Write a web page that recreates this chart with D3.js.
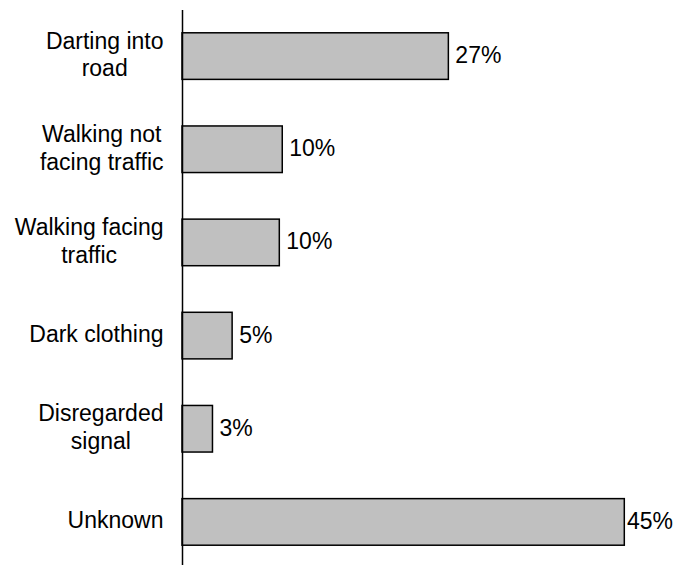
<!DOCTYPE html>
<html>
<head>
<meta charset="utf-8">
<script src="https://d3js.org/d3.v7.min.js"></script>
<style>
	body { margin: 0; background: #fff; }
	svg text { font-family: "Liberation Sans", Arial, sans-serif; font-size: 23px; fill: #000; }
</style>
</head>
<body>
<svg width="673" height="565"></svg>
<script>
	// data
	var categories = [
		["Darting into", "road"],
		["Walking not", "facing traffic"],
		["Walking facing", "traffic"],
		["Dark clothing"],
		["Disregarded", "signal"],
		["Unknown"]
	];
	var values = [27.1, 10.2, 9.9, 5.1, 3.1, 45];
	var valueLabels = ["27%", "10%", "10%", "5%", "3%", "45%"];

	var svg = d3.select("svg"),
		width = +svg.attr("width"),
		height = +svg.attr("height");

	var x0 = 182;
	var x = d3.scaleLinear()
		.domain([0, 45])
		.range([x0, 624.3]);

	var y = d3.scaleBand()
		.domain(d3.range(categories.length))
		.range([9.5, 568.5])
		.paddingInner(0.5)
		.paddingOuter(0.25);

	// bars
	svg.append("g")
		.selectAll("rect")
		.data(values)
		.enter()
		.append("rect")
		.attr("x", x(0))
		.attr("y", function(d, i) { return y(i); })
		.attr("width", function(d) { return x(d) - x(0); })
		.attr("height", y.bandwidth())
		.attr("fill", "#c0c0c0")
		.attr("stroke", "#000")
		.attr("stroke-width", 1.5);

	// vertical axis line, no ticks
	svg.append("g")
		.attr("transform", "translate(" + x0 + ",0)")
		.call(d3.axisLeft(y).tickSize(0).tickSizeOuter(0).tickFormat(""))
		.select(".domain")
		.attr("stroke", "#000")
		.attr("stroke-width", 1.5);

	// category labels, each block centred, widest line ending near the axis
	var lineH = 27.7;
	var labelRight = 163.5;
	categories.forEach(function(lines, i) {
		var t = svg.append("text")
			.attr("text-anchor", "middle");
		var cy = y(i) + y.bandwidth() / 2;
		var top = cy - (lines.length - 1) * lineH / 2 + 6.5;
		lines.forEach(function(s, k) {
			t.append("tspan")
				.attr("y", top + k * lineH)
				.text(s);
		});
		var maxW = d3.max(t.selectAll("tspan").nodes(), function(n) { return n.getComputedTextLength(); });
		t.selectAll("tspan").attr("x", labelRight - maxW / 2);
	});

	// value labels, kept inside the picture
	svg.append("g")
		.selectAll("text")
		.data(values)
		.enter()
		.append("text")
		.attr("y", function(d, i) { return y(i) + y.bandwidth() / 2 + 7; })
		.text(function(d, i) { return valueLabels[i]; })
		.attr("x", function(d) {
			var w = this.getComputedTextLength();
			return Math.min(x(d) + 7, width - w);
		});
</script>
</body>
</html>
